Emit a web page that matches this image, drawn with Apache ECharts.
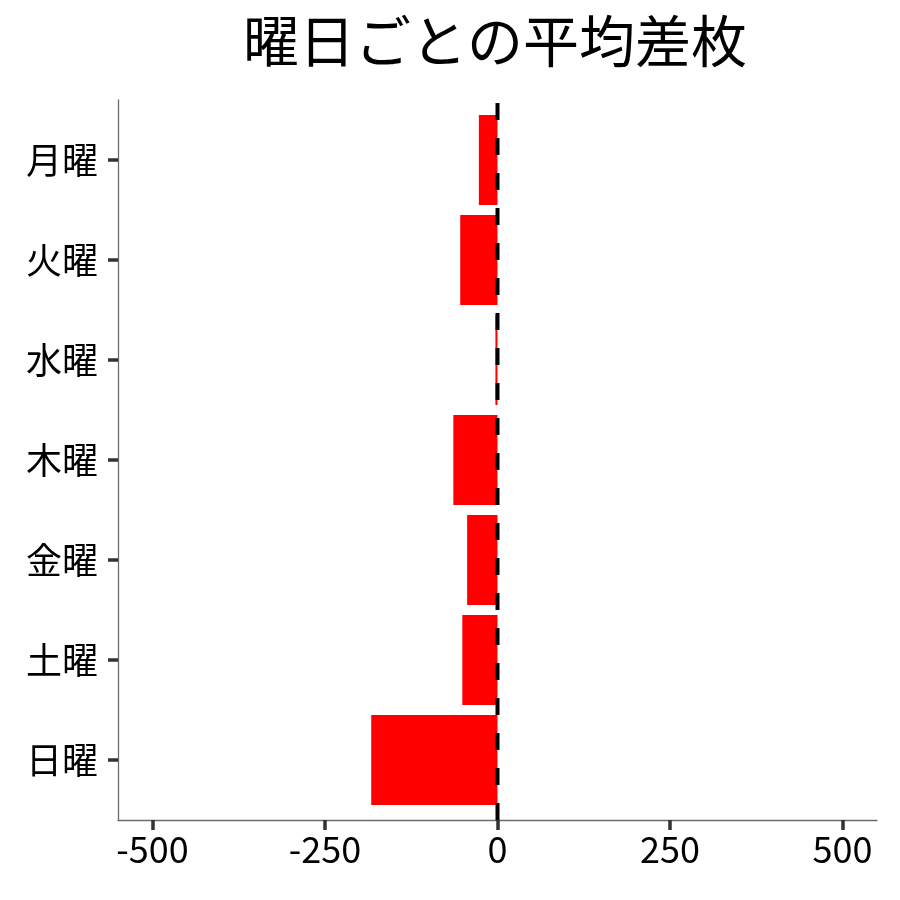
<!DOCTYPE html>
<html><head><meta charset="utf-8">
<script src="https://cdn.jsdelivr.net/npm/echarts@6/dist/echarts.min.js"></script>
<style>html,body{margin:0;padding:0;background:#fff}#c{width:900px;height:900px}</style>
</head><body><div id="c"></div>
<script>
const titleText = '曜日ごとの平均差枚';
const categories = ['月曜','火曜','水曜','木曜','金曜','土曜','日曜'];
const values = [-27, -54, -3, -64, -44, -51, -183];
const tickMin = -500, tickMax = 500, tickStep = 250;
const xMin = -550, xMax = 550;
const zeroLine = [[0, 0], [0, 1]];

const FONT = '"Noto Sans CJK JP", "Noto Sans", sans-serif';
const L = 118, R = 23;
const pxPerUnit = (900 - L - R) / (xMax - xMin);
const innerL = L + (tickMin - xMin) * pxPerUnit;
const innerR = R + (xMax - tickMax) * pxPerUnit;

const chart = echarts.init(document.getElementById('c'), null, {renderer: 'canvas'});
chart.setOption({
  animation: false,
  backgroundColor: '#fff',
  title: {
    text: titleText, left: 490, top: 8, textAlign: 'center',
    textStyle: {fontFamily: FONT, fontSize: 56, fontWeight: 'normal', color: '#000'}
  },
  grid: [
    {left: L, right: R, top: 100, bottom: 80},
    {left: innerL, right: innerR, top: 110, bottom: 90}
  ],
  xAxis: [
    {
      type: 'value', gridIndex: 0, min: xMin, max: xMax,
      axisLine: {show: true, onZero: false, lineStyle: {color: '#6b6b6b', width: 1.3}},
      axisTick: {show: false}, axisLabel: {show: false}, splitLine: {show: false}
    },
    {
      type: 'value', gridIndex: 1, min: tickMin, max: tickMax, interval: tickStep,
      position: 'bottom', offset: 10,
      axisLine: {show: false, onZero: false},
      axisTick: {show: true, length: 10, lineStyle: {color: '#333', width: 3.5}},
      axisLabel: {show: true, margin: 11, fontFamily: FONT, fontSize: 36, color: '#000'},
      splitLine: {show: false}
    }
  ],
  yAxis: [
    {
      type: 'value', gridIndex: 0, min: 0, max: 1,
      axisLine: {show: true, onZero: false, lineStyle: {color: '#6b6b6b', width: 1.3}},
      axisTick: {show: false}, axisLabel: {show: false}, splitLine: {show: false}
    },
    {
      type: 'category', gridIndex: 1, data: categories, inverse: true,
      offset: innerL - L,
      axisLine: {show: false, onZero: false},
      axisTick: {show: true, alignWithLabel: true, length: 10, lineStyle: {color: '#333', width: 3.5}},
      axisLabel: {margin: 20, fontFamily: FONT, fontSize: 36, color: '#000'},
      splitLine: {show: false}
    }
  ],
  series: [
    {
      type: 'bar', xAxisIndex: 1, yAxisIndex: 1, data: values,
      barCategoryGap: '10%', itemStyle: {color: '#ff0000'}, z: 2
    },
    {
      type: 'line', xAxisIndex: 0, yAxisIndex: 0, data: zeroLine,
      showSymbol: false, symbol: 'none', z: 5,
      lineStyle: {color: '#000', width: 4, type: [17, 18]}
    }
  ]
});
</script></body></html>
